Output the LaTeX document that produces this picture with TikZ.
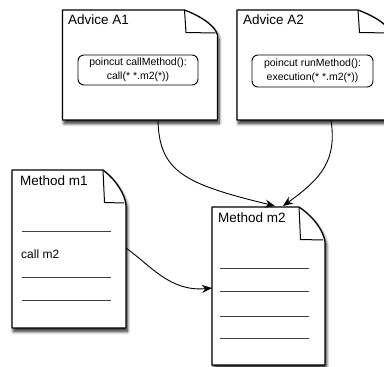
\documentclass[tikz,border=0pt]{standalone}
\usepackage{fontspec}
\setmainfont{Liberation Sans}
\usetikzlibrary{calc,arrows.meta,shadows.blur}

\tikzset{
  docarea/.style={rectangle, inner sep=0pt, outer sep=0pt},
  docoutline/.style={draw=black, line width=1.3pt, fill=white, line join=round,
    blur shadow={shadow xshift=1.5pt, shadow yshift=-3.5pt, shadow blur radius=3pt,
      shadow blur steps=8, shadow opacity=85}},
  foldline/.style={draw=black, line width=1pt, line join=round},
  ruleline/.style={draw=black!75, line width=0.9pt},
  doctitle/.style={anchor=west, inner sep=0pt, font=\fontsize{13.5}{15}\selectfont},
  doctext/.style={anchor=west, inner sep=0pt, font=\fontsize{12}{14}\selectfont},
  cutbox/.style={draw=black, line width=0.9pt, rounded corners=6pt, inner sep=0pt,
    align=center, font=\fontsize{10.5}{13.5}\selectfont},
  link/.style={draw=black, line width=0.9pt, -{Stealth[length=10pt,width=8pt]}},
}

% page with a curled top-right corner, drawn round a named node
% (y grows downwards in this picture)
\newcommand\curlpage[3]{%
  \path[docoutline] (#1.north west) -- ($(#1.north east)+(-#2,0)$)
    .. controls ($(#1.north east)+(-#2*0.4,#3*0.3)$) and ($(#1.north east)+(-#2*0.05,#3*0.7)$)
    .. ($(#1.north east)+(0,#3)$) -- (#1.south east) -- (#1.south west) -- cycle;
  \path[foldline] ($(#1.north east)+(-#2,0)$) -- ($(#1.north east)+(-#2+1.5,#3-2.5)$)
    -- ($(#1.north east)+(-2,#3-2)$);
}

\begin{document}
\begin{tikzpicture}[x=1pt,y=-1pt]
  \useasboundingbox (0,0) rectangle (384,367);

  % document areas
  \node[docarea, minimum width=155pt, minimum height=110pt] (a1) at (140,65) {};
  \node[docarea, minimum width=155pt, minimum height=110pt] (a2) at (314.5,65) {};
  \node[docarea, minimum width=114pt, minimum height=158pt] (m1) at (69,249) {};
  \node[docarea, minimum width=113pt, minimum height=158pt] (m2) at (268.5,286) {};

  % link end points
  \coordinate (a1out) at (158,120);
  \coordinate (a1in) at (275,206);
  \coordinate (a2out) at (331,120);
  \coordinate (a2in) at (283,206);
  \coordinate (m1out) at (126,248);
  \coordinate (m2in) at (212,288);

  \curlpage{a1}{33}{25}
  \curlpage{a2}{34}{25}
  \curlpage{m1}{23}{35}
  \curlpage{m2}{26}{35}

  \draw[link] (a1out) .. controls (159,172) and (185,184) .. (a1in);
  \draw[link] (a2out) .. controls (337,160) and (322,178) .. (a2in);
  \draw[link] (m1out) .. controls (150,265) and (170,292) .. (m2in);

  % advice A1
  \node[doctitle] (a1t) at (68,20) {Advice A1};
  \node[cutbox, minimum width=120pt, minimum height=30pt] (a1p) at (138,70)
    {poincut callMethod():\\call(* *.m2(*))};

  % advice A2
  \node[doctitle] (a2t) at (243,20) {Advice A2};
  \node[cutbox, minimum width=121pt, minimum height=32pt] (a2p) at (312.5,71)
    {poincut runMethod():\\execution(* *.m2(*))};

  % method m1
  \node[doctitle] (m1t) at (20,181) {Method m1};
  \coordinate (m1l1) at (22,231); \coordinate (m1r1) at (111,231);
  \coordinate (m1l2) at (22,277); \coordinate (m1r2) at (111,277);
  \coordinate (m1l3) at (22,300); \coordinate (m1r3) at (111,300);
  \draw[ruleline] (m1l1) -- (m1r1);
  \draw[ruleline] (m1l2) -- (m1r2);
  \draw[ruleline] (m1l3) -- (m1r3);
  \node[doctext] (m1c) at (21,254) {call m2};

  % method m2
  \node[doctitle] (m2t) at (218,218) {Method m2};
  \coordinate (m2l1) at (220,268); \coordinate (m2r1) at (309,268);
  \coordinate (m2l2) at (220,291); \coordinate (m2r2) at (309,291);
  \coordinate (m2l3) at (220,316); \coordinate (m2r3) at (309,316);
  \coordinate (m2l4) at (220,338); \coordinate (m2r4) at (309,338);
  \draw[ruleline] (m2l1) -- (m2r1);
  \draw[ruleline] (m2l2) -- (m2r2);
  \draw[ruleline] (m2l3) -- (m2r3);
  \draw[ruleline] (m2l4) -- (m2r4);
\end{tikzpicture}
\end{document}
